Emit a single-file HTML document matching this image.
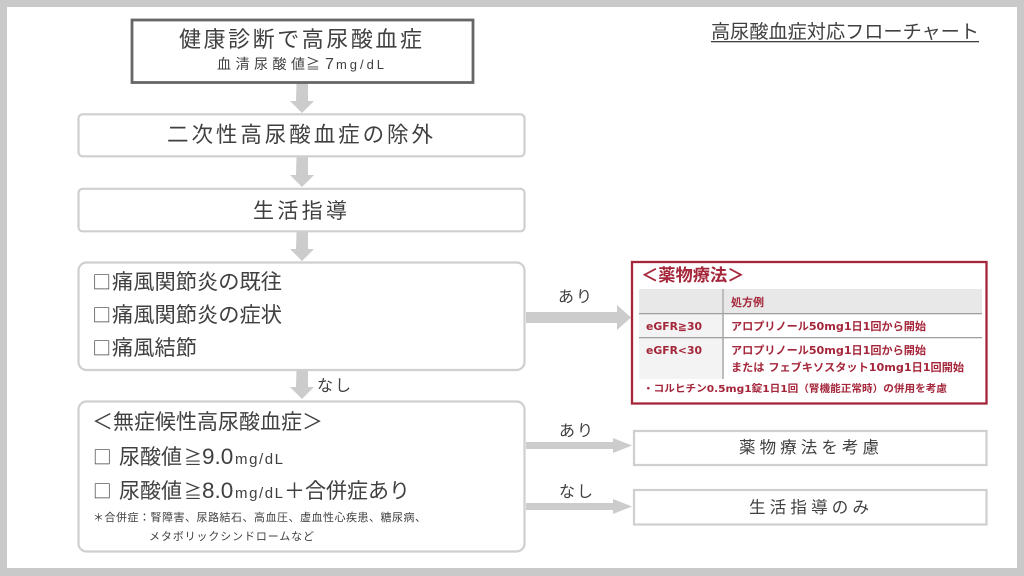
<!DOCTYPE html>
<html lang="ja"><head><meta charset="utf-8"><style>
html,body{margin:0;padding:0;background:#c9c9c9;width:1024px;height:576px;overflow:hidden}
svg{display:block}
text{font-family:"Liberation Sans","Noto Sans CJK JP",sans-serif;fill:#404040}
.c{font-family:"Noto Sans CJK JP",sans-serif}
.r text{fill:#a5263a;font-weight:700;font-family:"DejaVu Sans","Noto Sans CJK JP",sans-serif}
</style></head><body>
<svg width="1024" height="576" viewBox="0 0 1024 576" xmlns="http://www.w3.org/2000/svg">
<rect x="0" y="0" width="1024" height="576" fill="#c9c9c9"/>
<rect x="7" y="7" width="1010" height="561" fill="#fff"/>

<g fill="#cccccc">
<path d="M296.500 83h11.500v18h6l-12 12-12-12h6z"/>
<path d="M296.500 157h11.500v18h6l-12 12-12-12h6z"/>
<path d="M296.500 232h11.500v17h6l-12 12-12-12h6z"/>
<path d="M296.500 370h11.500v17h6l-12 12-12-12h6z"/>
<path d="M526 312h91v-7l14 12.500-14 12.500v-7h-91z"/>
<path d="M526 442h87v-4l19 7.500-19 7.500v-4h-87z"/>
<path d="M526 503h87v-4l19 7.500-19 7.500v-4h-87z"/>
</g>

<rect x="132" y="20" width="341" height="62.500" fill="#fff" stroke="#666" stroke-width="2.800"/>
<g fill="#fff" stroke="#cfcfcf" stroke-width="2.200">
<rect x="78.500" y="114.300" width="446" height="42" rx="4"/>
<rect x="78.500" y="188.800" width="446" height="42.500" rx="4"/>
<rect x="78.500" y="262.500" width="446" height="107.500" rx="8"/>
<rect x="78.500" y="401.500" width="446" height="150" rx="8"/>
<rect x="634" y="431" width="352.500" height="34"/>
<rect x="634" y="490" width="352.500" height="34.500"/>
</g>

<text x="711" y="38" font-size="19" textLength="268" lengthAdjust="spacingAndGlyphs">高尿酸血症対応フローチャート</text>
<rect x="711" y="41" width="268" height="1.300" fill="#404040"/>

<text x="179" y="47" font-size="22" textLength="243">健康診断で高尿酸血症</text>
<text x="217" y="69" font-size="14" textLength="88">血清尿酸値</text>
<text class="c" x="306" y="69" font-size="14">≧</text>
<text x="325" y="69" font-size="16">7</text>
<text x="336" y="69" font-size="13" textLength="48">mg/dL</text>
<text x="167" y="142" font-size="21.500" textLength="266">二次性高尿酸血症の除外</text>
<text x="253" y="218" font-size="21" textLength="94">生活指導</text>

<text class="c" x="92.500" y="289" font-size="18.500">□</text>
<text class="c" x="112" y="289" font-size="21.250">痛風関節炎の既往</text>
<text class="c" x="92.500" y="322" font-size="18.500">□</text>
<text class="c" x="112" y="322" font-size="21.250">痛風関節炎の症状</text>
<text class="c" x="92.500" y="355" font-size="18.500">□</text>
<text class="c" x="112" y="355" font-size="21.250">痛風結節</text>
<text x="317" y="391" font-size="16" textLength="34">なし</text>

<text class="c" x="92" y="429" font-size="21">＜無症候性高尿酸血症＞</text>
<text class="c" x="93" y="464" font-size="18.500">□</text>
<text class="c" x="119" y="464" font-size="21">尿酸値</text>
<text class="c" x="184" y="464" font-size="18">≧</text>
<text x="202" y="464" font-size="22.500">9.0</text>
<text x="235" y="464" font-size="15" textLength="48">mg/dL</text>
<text class="c" x="93" y="498" font-size="18.500">□</text>
<text class="c" x="119" y="498" font-size="21">尿酸値</text>
<text class="c" x="184" y="498" font-size="18">≧</text>
<text x="202" y="498" font-size="22.500">8.0</text>
<text x="235" y="498" font-size="15" textLength="48">mg/dL</text>
<text class="c" x="284" y="498" font-size="21">＋合併症あり</text>
<text x="93" y="521" font-size="11" textLength="333">＊合併症：腎障害、尿路結石、高血圧、虚血性心疾患、糖尿病、</text>
<text x="149" y="540" font-size="11" textLength="165">メタボリックシンドロームなど</text>

<text x="558" y="302" font-size="16" textLength="34">あり</text>
<text x="559" y="436" font-size="16" textLength="34">あり</text>
<text x="559" y="497" font-size="16" textLength="34">なし</text>
<text x="739" y="453" font-size="16.500" textLength="140">薬物療法を考慮</text>
<text x="749" y="513" font-size="16.500" textLength="120">生活指導のみ</text>

<rect x="632" y="262" width="354.500" height="141.500" fill="#fff" stroke="#a5263a" stroke-width="2.300"/>
<rect x="639" y="289" width="343" height="24" fill="#e8e8e8"/>
<rect x="639" y="313" width="83" height="66" fill="#f3f3f3"/>
<rect x="722" y="289" width="2" height="90" fill="#bdbdbd"/>
<rect x="639" y="313" width="343" height="1.300" fill="#a0a0a0"/>
<rect x="639" y="337" width="343" height="1.300" fill="#a0a0a0"/>
<g class="r">
<text x="641" y="281" font-size="17.250">＜薬物療法＞</text>
<text x="731" y="306" font-size="11">処方例</text>
<text x="646" y="330" font-size="11" textLength="56" lengthAdjust="spacingAndGlyphs">eGFR≧30</text>
<text x="731" y="330" font-size="11" textLength="195" lengthAdjust="spacingAndGlyphs">アロプリノール50mg1日1回から開始</text>
<text x="646" y="354" font-size="11" textLength="56" lengthAdjust="spacingAndGlyphs">eGFR&lt;30</text>
<text x="731" y="354" font-size="11" textLength="195" lengthAdjust="spacingAndGlyphs">アロプリノール50mg1日1回から開始</text>
<text x="731" y="371" font-size="11" textLength="233" lengthAdjust="spacingAndGlyphs">または フェブキソスタット10mg1日1回開始</text>
<text x="643" y="392" font-size="10" textLength="304" lengthAdjust="spacingAndGlyphs">・コルヒチン0.5mg1錠1日1回（腎機能正常時）の併用を考慮</text>
</g>
</svg>
</body></html>
